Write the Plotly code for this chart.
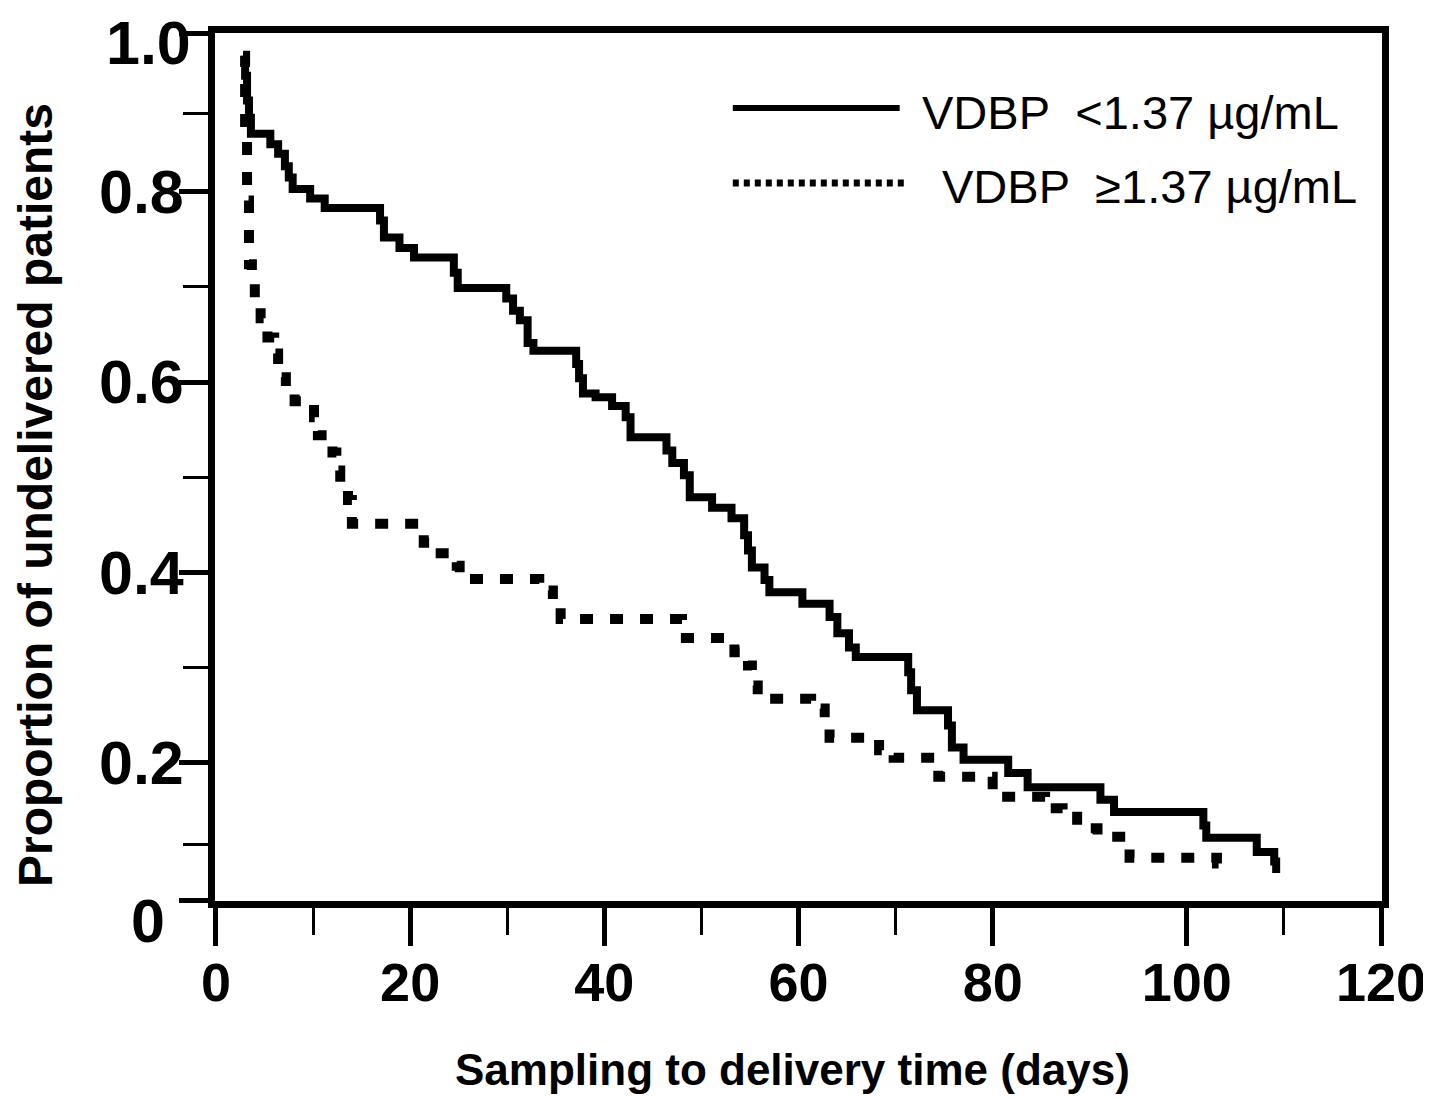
import plotly.graph_objects as go

# ---- data ----
# VDBP < 1.37 ug/mL (solid)
low_days = [2.8, 3.0, 3.2, 3.4, 3.6, 5.6, 6.4, 7.1, 7.5, 7.9, 9.7, 11.2, 16.9, 17.3, 18.9,
            20.4, 24.5, 24.9, 29.9, 30.6, 31.3, 32.1, 32.7, 37.1, 37.4, 37.8, 39.1, 40.8,
            42.2, 42.7, 46.4, 47.0, 48.2, 48.8, 51.1, 53.1, 54.4, 54.8, 55.2, 56.5, 57.0,
            60.4, 63.2, 64.0, 65.2, 65.9, 71.3, 71.6, 72.2, 75.4, 75.8, 77.0, 81.6, 83.6,
            91.1, 92.5, 101.7, 102.0, 107.2, 109.0, 109.2]
low_prop = [0.943, 0.922, 0.896, 0.878, 0.861, 0.850, 0.840, 0.827, 0.815, 0.803, 0.793,
            0.783, 0.770, 0.752, 0.741, 0.731, 0.715, 0.699, 0.688, 0.675, 0.665, 0.641,
            0.633, 0.619, 0.604, 0.588, 0.584, 0.575, 0.563, 0.542, 0.528, 0.515, 0.502,
            0.479, 0.468, 0.457, 0.439, 0.423, 0.405, 0.392, 0.379, 0.367, 0.353, 0.336,
            0.321, 0.311, 0.295, 0.276, 0.255, 0.239, 0.216, 0.203, 0.189, 0.174, 0.161,
            0.148, 0.134, 0.121, 0.106, 0.096, 0.084]

# VDBP >= 1.37 ug/mL (dotted)
high_days = [2.8, 3.0, 3.2, 3.4, 3.7, 4.0, 4.6, 5.3, 6.0, 6.4, 7.2, 8.1, 10.1, 10.5, 12.0,
             12.4, 12.8, 13.6, 14.0, 21.4, 22.6, 24.8, 25.1, 33.3, 34.7, 35.5, 48.0, 48.4,
             53.4, 54.8, 55.2, 55.8, 61.3, 62.7, 63.2, 68.3, 69.8, 74.4, 80.0, 85.4, 87.2,
             88.7, 90.8, 93.7, 94.1, 103.1, 103.9]
high_prop = [0.943, 0.864, 0.791, 0.724, 0.704, 0.686, 0.667, 0.647, 0.630, 0.605, 0.588,
             0.580, 0.563, 0.544, 0.526, 0.507, 0.488, 0.476, 0.451, 0.431, 0.420, 0.407,
             0.393, 0.381, 0.369, 0.351, 0.346, 0.331, 0.316, 0.302, 0.281, 0.267, 0.257,
             0.245, 0.226, 0.213, 0.205, 0.185, 0.164, 0.152, 0.143, 0.131, 0.122, 0.117,
             0.100, 0.094, 0.094]

x_ticks = [0, 20, 40, 60, 80, 100, 120]
x_ticklabels = ["0", "20", "40", "60", "80", "100", "120"]
x_minor = [10, 30, 50, 70, 110]
y_ticks = [0.0548, 0.2, 0.4, 0.6, 0.8, 0.9665]
y_ticklabels = ["", "0.2", "0.4", "0.6", "0.8", ""]
y_bottom_label = "0"
y_top_label = "1.0"
y_minor = [0.114, 0.3, 0.5, 0.7, 0.882]

x_title = "Sampling to delivery time (days)"
y_title = "Proportion of undelivered patients"
legend_labels = ["VDBP  &lt;1.37 µg/mL", "VDBP  ≥1.37 µg/mL"]

FONT = "Liberation Sans, Arial, sans-serif"

fig = go.Figure()
fig.add_trace(go.Scatter(x=high_days, y=high_prop, mode="lines",
                         line=dict(color="black", width=10, shape="hv", dash="13px,17px"),
                         showlegend=False))
fig.add_trace(go.Scatter(x=low_days, y=low_prop, mode="lines",
                         line=dict(color="black", width=8, shape="hv"),
                         showlegend=False))

fig.update_layout(
    width=1423, height=1089,
    margin=dict(l=207, r=48.5, t=25, b=195.5, pad=0),
    paper_bgcolor="white", plot_bgcolor="white",
    font=dict(family=FONT, color="black"),
    xaxis=dict(range=[-0.1, 120.1], showgrid=False, zeroline=False, automargin=False,
               showline=True, linecolor="black", linewidth=7, mirror=True,
               tickmode="array", tickvals=x_ticks, ticktext=x_ticklabels,
               ticks="outside", ticklen=38, tickwidth=5, tickcolor="black",
               ticklabelstandoff=-10,
               tickfont=dict(family=FONT, size=54, color="black", weight="bold"),
               minor=dict(tickmode="array", tickvals=x_minor, ticks="outside",
                          ticklen=27, tickwidth=3, tickcolor="black", showgrid=False)),
    yaxis=dict(range=[0.0545, 0.967], showgrid=False, zeroline=False, automargin=False,
               showline=True, linecolor="black", linewidth=7, mirror=True,
               tickmode="array", tickvals=y_ticks, ticktext=y_ticklabels,
               ticks="outside", ticklen=29, tickwidth=5, tickcolor="black",
               ticklabelstandoff=-17,
               tickfont=dict(family=FONT, size=61, color="black", weight="bold"),
               minor=dict(tickmode="array", tickvals=y_minor, ticks="outside",
                          ticklen=25, tickwidth=3, tickcolor="black", showgrid=False)),
)

# end labels of the y axis
fig.add_annotation(xref="paper", yref="paper", x=-0.019, y=1.0295, xanchor="right", yanchor="top",
                   text="<b>" + y_top_label + "</b>", showarrow=False,
                   font=dict(family=FONT, size=61, color="black"))
fig.add_annotation(xref="paper", yref="paper", x=-0.041, y=-0.0233, xanchor="right", yanchor="middle",
                   text="<b>" + y_bottom_label + "</b>", showarrow=False,
                   font=dict(family=FONT, size=61, color="black"))

# axis titles as annotations (paper coords)
fig.add_annotation(xref="paper", yref="paper", x=0.495, y=-0.2245, xanchor="center", yanchor="bottom",
                   text="<b>" + x_title + "</b>", showarrow=False,
                   font=dict(family=FONT, size=44, color="black"))
fig.add_annotation(xref="paper", yref="paper", x=-0.154, y=0.468, xanchor="center", yanchor="middle",
                   text="<b>" + y_title + "</b>", showarrow=False, textangle=-90,
                   font=dict(family=FONT, size=48, color="black"))

# legend drawn as paper-referenced decorations
fig.add_shape(type="line", xref="paper", yref="paper", x0=0.4437, x1=0.5867, y0=0.9136, y1=0.9136,
              line=dict(color="black", width=6))
fig.add_shape(type="line", xref="paper", yref="paper", x0=0.4437, x1=0.591, y0=0.8273, y1=0.8273,
              line=dict(color="black", width=7, dash="6px,5px"))
fig.add_annotation(xref="paper", yref="paper", x=0.6039, y=0.9079, xanchor="left", yanchor="middle",
                   text=legend_labels[0], showarrow=False,
                   font=dict(family=FONT, size=47, color="black"))
fig.add_annotation(xref="paper", yref="paper", x=0.621, y=0.8227, xanchor="left", yanchor="middle",
                   text=legend_labels[1], showarrow=False,
                   font=dict(family=FONT, size=47, color="black"))

fig.write_html("out.html")
